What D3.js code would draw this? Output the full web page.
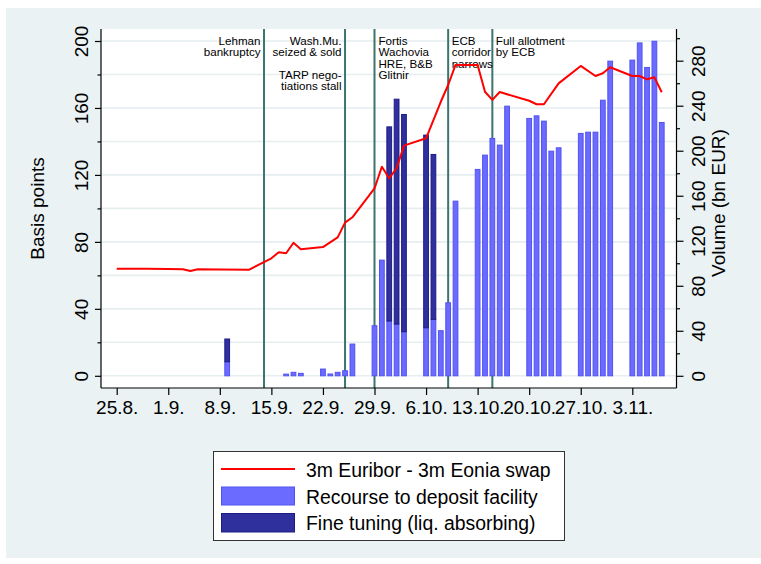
<!DOCTYPE html>
<html><head><meta charset="utf-8">
<script src="https://cdn.jsdelivr.net/npm/d3@7/dist/d3.min.js"></script>
<style>
body{margin:0;background:#fff}
svg{display:block}
text{font-family:"Liberation Sans",Arial,Helvetica,sans-serif;fill:#000}
</style>
</head><body>
<svg id="chart" width="761" height="564"></svg>
<script>
// ---------- DATA ----------
const spreadDates = ["2008-08-25","2008-08-29","2008-09-01","2008-09-03","2008-09-04","2008-09-05","2008-09-08","2008-09-12",
  "2008-09-15","2008-09-16","2008-09-17","2008-09-18","2008-09-19","2008-09-22","2008-09-24","2008-09-25","2008-09-26",
  "2008-09-29","2008-09-30","2008-10-01","2008-10-02","2008-10-03","2008-10-06","2008-10-08","2008-10-09","2008-10-10",
  "2008-10-13","2008-10-14","2008-10-15","2008-10-16","2008-10-20","2008-10-21","2008-10-22","2008-10-24","2008-10-27",
  "2008-10-29","2008-10-30","2008-10-31","2008-11-03","2008-11-04","2008-11-05","2008-11-06","2008-11-07"];
const spreadValues = [64.0,63.9,63.8,63.7,62.6,63.6,63.5,63.4,
  70.2,73.8,73.2,79.5,75.6,76.9,82.7,91.5,94.7,
  111.9,124.9,118.0,124.0,137.5,141.9,163.7,173.7,185.7,
  185.7,169.7,164.8,169.5,164.3,162.2,162.2,174.7,185.1,
  179.1,180.7,184.3,179.1,179.1,177.1,178.3,169.4];

const barDates = ["2008-09-09","2008-09-17","2008-09-18","2008-09-19","2008-09-22","2008-09-23","2008-09-24","2008-09-25","2008-09-26",
  "2008-09-29","2008-09-30","2008-10-01","2008-10-02","2008-10-03","2008-10-06","2008-10-07","2008-10-08","2008-10-09","2008-10-10",
  "2008-10-13","2008-10-14","2008-10-15","2008-10-16","2008-10-17","2008-10-20","2008-10-21","2008-10-22","2008-10-23","2008-10-24",
  "2008-10-27","2008-10-28","2008-10-29","2008-10-30","2008-10-31","2008-11-03","2008-11-04","2008-11-05","2008-11-06","2008-11-07"];
const depositValues = [12.5,1.5,3.1,2.2,6.0,1.6,3.1,4.5,28.2,
  44.5,102.8,48.7,46.0,39.2,42.7,50.2,40.1,64.9,155.2,
  183.4,196.1,210.9,205.0,239.6,228.7,231.0,226.3,199.6,202.6,
  215.4,216.5,216.5,244.9,279.6,280.5,295.8,274.0,297.3,225.1];
const fineTuningValues = [20.2,0,0,0,0,0,0,0,0,
  0,0,172.5,199.8,193.0,171.2,146.5,0,0,0,
  0,0,0,0,0,0,0,0,0,0,
  0,0,0,0,0,0,0,0,0,0];

const eventDates = ["2008-09-14","2008-09-25","2008-09-29","2008-10-09","2008-10-15"];
const eventTexts = [
  {event:0, lines:["Lehman","bankruptcy"]},
  {event:1, lines:["Wash.Mu.","seized & sold"]},
  {event:1, lines:["TARP nego-","tiations stall"]},
  {event:2, lines:["Fortis","Wachovia","HRE, B&B","Glitnir"]},
  {event:3, lines:["ECB","corridor","narrows"]},
  {event:4, lines:["Full allotment","by ECB"]}
];

const xTickDates = ["2008-08-25","2008-09-01","2008-09-08","2008-09-15","2008-09-22","2008-09-29","2008-10-06","2008-10-13","2008-10-20","2008-10-27","2008-11-03"];
const xTickLabels = ["25.8.","1.9.","8.9.","15.9.","22.9.","29.9.","6.10.","13.10.","20.10.","27.10.","3.11."];
const leftTicks = [0,40,80,120,160,200];
const leftMinorTicks = [20,60,100,140,180];
const gridValues = [0,20,40,60,80,100,120,140,160,180,200];
const rightTicks = [0,40,80,120,160,200,240,280];
const rightMinorTicks = [20,60,100,140,180,220,260,300];
const legendLabels = ["3m Euribor - 3m Eonia swap","Recourse to deposit facility","Fine tuning (liq. absorbing)"];
const leftTitle = "Basis points";
const rightTitle = "Volume (bn EUR)";

// ---------- LAYOUT ----------
const parse = d3.utcParse("%Y-%m-%d");
const W = 761, H = 564;
const plot = {left:101, right:676.5, top:29, bottom:388};
const svg = d3.select("#chart");

const x = d3.scaleUtc().domain([parse("2008-08-25"), parse("2008-11-03")]).range([116.7, 632.3]);
const yL = d3.scaleLinear().domain([0,200]).range([375.8, 41]);
const yR = d3.scaleLinear().domain([0,280]).range([375.8, 60.7]);
const dayPx = x(parse("2008-08-26")) - x(parse("2008-08-25"));

const C = {bg:"#EAF2F3", grid:"#E6EEF0", event:"#3B756F", line:"#FF0000",
  dep:"#6B6BFF", depStroke:"#5252F2", ft:"#2F2F9E", ftStroke:"#1C1C86"};

svg.append("rect").attr("width",W).attr("height",H).attr("fill","#fff");
svg.append("rect").attr("x",6).attr("y",8).attr("width",W-6).attr("height",H-14).attr("fill",C.bg);
svg.append("rect").attr("x",plot.left).attr("y",plot.top).attr("width",plot.right-plot.left).attr("height",plot.bottom-plot.top).attr("fill","#fff");

// grid
svg.append("g").selectAll("line").data(gridValues).join("line")
  .attr("x1",plot.left).attr("x2",plot.right).attr("y1",d=>yL(d)).attr("y2",d=>yL(d))
  .attr("stroke",C.grid).attr("stroke-width",1.6);

// event lines
svg.append("g").selectAll("line").data(eventDates).join("line")
  .attr("x1",d=>x(parse(d))).attr("x2",d=>x(parse(d))).attr("y1",plot.top).attr("y2",plot.bottom)
  .attr("stroke",C.event).attr("stroke-width",2);

// event texts
const textLayout = [
  {anchor:"end", dx:-3.5, y0:44.5},
  {anchor:"end", dx:-3.5, y0:44.5},
  {anchor:"end", dx:-3.5, y0:78.5},
  {anchor:"start", dx:4, y0:44.5},
  {anchor:"start", dx:3.5, y0:44.5},
  {anchor:"start", dx:3.5, y0:44.5}
];
eventTexts.forEach((t,i)=>{
  const L = textLayout[i];
  const ex = x(parse(eventDates[t.event]));
  const g = svg.append("text").attr("text-anchor",L.anchor).style("font-size","11.6px");
  t.lines.forEach((s,j)=>g.append("tspan").attr("x",ex+L.dx).attr("y",L.y0+j*11.6).text(s));
});

// bars
const bw = dayPx*0.78;
const barData = barDates.map((d,i)=>({date:parse(d), dep:depositValues[i], ft:fineTuningValues[i]}));
const bars = svg.append("g");
bars.selectAll("rect.dep").data(barData).join("rect").attr("class","dep")
  .attr("x",d=>x(d.date)-bw/2+0.5).attr("width",bw-1)
  .attr("y",d=>yR(d.dep)).attr("height",d=>yR(0)-yR(d.dep))
  .attr("fill",C.dep).attr("stroke",C.depStroke).attr("stroke-width",1);
bars.selectAll("rect.ft").data(barData.filter(d=>d.ft>0)).join("rect").attr("class","ft")
  .attr("x",d=>x(d.date)-bw/2+0.5).attr("width",bw-1)
  .attr("y",d=>yR(d.dep+d.ft)).attr("height",d=>yR(d.dep)-yR(d.dep+d.ft))
  .attr("fill",C.ft).attr("stroke",C.ftStroke).attr("stroke-width",1);

// spread line
const lineData = spreadDates.map((d,i)=>({date:parse(d), v:spreadValues[i]}));
svg.append("path").datum(lineData)
  .attr("d", d3.line().x(d=>x(d.date)).y(d=>yL(d.v)))
  .attr("fill","none").attr("stroke",C.line).attr("stroke-width",2).attr("stroke-linejoin","round");

// axes
function styleAxis(g){
  g.select(".domain").attr("stroke","#000").attr("stroke-width",1.2);
  g.selectAll(".tick line").attr("stroke","#000").attr("stroke-width",1.2);
  g.selectAll("text").style("font-family",'"Liberation Sans",Arial,sans-serif').attr("fill","#000");
}
const xAxis = svg.append("g").attr("transform",`translate(0,${plot.bottom})`)
  .call(d3.axisBottom(x).tickValues(xTickDates.map(parse)).tickFormat((d,i)=>xTickLabels[i]).tickSize(7).tickSizeOuter(0));
xAxis.select(".domain").attr("d",`M${plot.left},0H${plot.right}`);
styleAxis(xAxis);
xAxis.selectAll("text").attr("y",26).attr("dy",0).style("font-size","19px");

const lAxis = svg.append("g").attr("transform",`translate(${plot.left},0)`)
  .call(d3.axisLeft(yL).tickValues(leftTicks).tickSize(6).tickSizeOuter(0));
lAxis.select(".domain").attr("d",`M0,${plot.top}V${plot.bottom}`);
styleAxis(lAxis);
lAxis.selectAll("text").attr("transform","rotate(-90)").attr("x",0).attr("y",-13.5).attr("dy",0)
  .attr("text-anchor","middle").style("font-size","19px");
svg.append("g").attr("transform",`translate(${plot.left},0)`)
  .call(d3.axisLeft(yL).tickValues(leftMinorTicks).tickSize(3.5).tickFormat(""))
  .call(g=>{g.select(".domain").remove(); g.selectAll("line").attr("stroke","#000").attr("stroke-width",1.2);});

const rAxis = svg.append("g").attr("transform",`translate(${plot.right},0)`)
  .call(d3.axisRight(yR).tickValues(rightTicks).tickSize(7).tickSizeOuter(0));
rAxis.select(".domain").attr("d",`M0,${plot.top}V${plot.bottom}`);
styleAxis(rAxis);
rAxis.selectAll("text").attr("transform","rotate(-90)").attr("x",0).attr("y",28.5).attr("dy",0)
  .attr("text-anchor","middle").style("font-size","19px");
svg.append("g").attr("transform",`translate(${plot.right},0)`)
  .call(d3.axisRight(yR).tickValues(rightMinorTicks.filter(v=>yR(v)>plot.top)).tickSize(3.5).tickFormat(""))
  .call(g=>{g.select(".domain").remove(); g.selectAll("line").attr("stroke","#000").attr("stroke-width",1.2);});

svg.append("text").attr("transform","translate(44,208.5) rotate(-90)").attr("text-anchor","middle")
  .style("font-size","19px").text(leftTitle);
svg.append("text").attr("transform","translate(725,203) rotate(-90)").attr("text-anchor","middle")
  .style("font-size","19px").text(rightTitle);

// legend
const lg = svg.append("g");
lg.append("rect").attr("x",213.5).attr("y",451.5).attr("width",351).attr("height",89)
  .attr("fill","#fff").attr("stroke","#333").attr("stroke-width",1);
lg.append("line").attr("x1",221).attr("x2",295).attr("y1",469).attr("y2",469).attr("stroke",C.line).attr("stroke-width",2);
lg.append("rect").attr("x",221.5).attr("y",487).attr("width",73).attr("height",18).attr("fill",C.dep).attr("stroke",C.depStroke);
lg.append("rect").attr("x",221.5).attr("y",513.5).attr("width",73).attr("height",18.5).attr("fill",C.ft).attr("stroke",C.ftStroke);
const lgY = [476.5,503.5,529.5];
legendLabels.forEach((s,i)=>lg.append("text").attr("x",306).attr("y",lgY[i]).style("font-size","19.4px").text(s));
</script>
</body></html>
